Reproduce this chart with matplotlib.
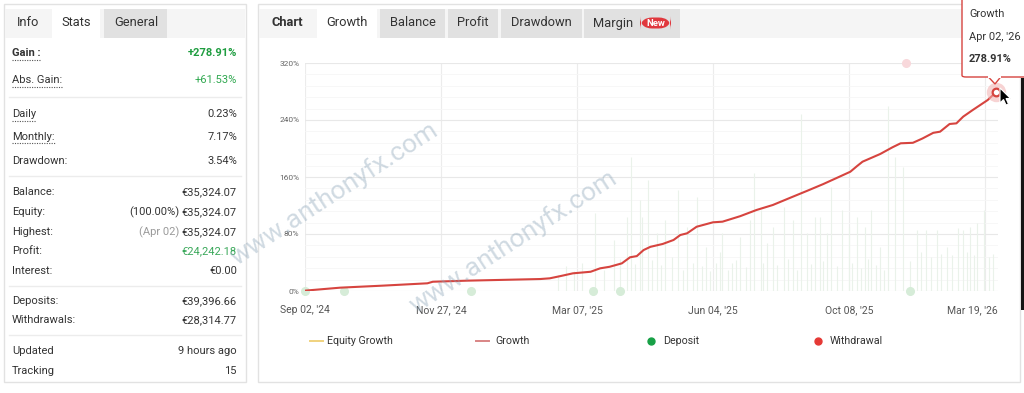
import matplotlib
matplotlib.use("Agg")
import matplotlib.pyplot as plt
import matplotlib.transforms as mtransforms
from matplotlib.patches import Rectangle, Polygon, FancyBboxPatch
from matplotlib.lines import Line2D

# === Data ===
# x is the ordinal day index of the stock chart, y is growth in %
growth_idx = [0, 26, 57, 90, 94, 119, 173, 180, 188, 197, 210, 217, 224, 233, 239, 244,
              249, 254, 263, 271, 276, 281, 288, 300, 307, 320, 332, 344, 357, 369, 381,
              393, 401, 406, 410, 423, 432, 438, 447, 454, 462, 467, 474, 479, 484, 491,
              502, 508]
growth_pct = [0.5, 4.7, 7.5, 10.8, 13.0, 14.5, 16.8, 17.8, 21.0, 24.8, 27.0, 31.8, 34.0,
              38.8, 47.3, 49.0, 57.5, 62.0, 66.0, 71.6, 78.6, 81.0, 90.2, 96.4, 97.3,
              105.0, 113.7, 120.7, 131.0, 140.4, 150.0, 160.4, 167.4, 175.4, 181.5, 192.3,
              201.7, 207.3, 208.0, 214.0, 222.0, 223.6, 234.4, 235.3, 244.7, 254.0, 268.0,
              278.91]

# faint daily columns behind the growth line
bar_idx = [186, 192, 198, 204, 213, 220, 227, 232, 237, 240, 243, 246, 248, 252, 255, 259,
           262, 265, 270, 274, 278, 281, 285, 288, 292, 295, 298, 302, 305, 307, 311, 314,
           317, 320, 324, 327, 330, 335, 337, 340, 344, 347, 352, 355, 359, 362, 365, 369,
           372, 375, 379, 381, 384, 387, 391, 395, 400, 402, 406, 409, 412, 414, 416, 420,
           423, 426, 429, 434, 440, 445, 450, 453, 457, 460, 465, 468, 472, 476, 480, 484,
           487, 489, 492, 494, 499, 503, 506]
bar_pct = [22, 35, 28, 40, 109, 30, 72, 45, 104, 188, 38, 128, 104, 156, 44, 81, 36, 100,
           48, 142, 30, 90, 40, 132, 35, 62, 28, 39, 55, 81, 30, 39, 44, 76, 33, 100, 165,
           114, 40, 67, 90, 36, 118, 45, 100, 30, 249, 81, 38, 104, 104, 42, 81, 146, 35,
           114, 90, 40, 104, 32, 90, 45, 114, 36, 62, 30, 259, 188, 174, 42, 86, 55, 86, 48,
           86, 52, 62, 50, 88, 86, 55, 90, 50, 95, 114, 48, 52]

deposit_idx = [0, 29, 122, 212, 232, 445]
withdrawal_idx = [442]

tick_idx = [0, 100, 200, 300, 400, 500]
tick_labels = ["Sep 02, '24", "Nov 27, '24", "Mar 07, '25", "Jun 04, '25", "Oct 08, '25",
               "Mar 19, '26"]
y_ticks = [0, 80, 160, 240, 320]

stat_labels = ["Gain :", "Abs. Gain:", "Daily", "Monthly:", "Drawdown:", "Balance:",
               "Equity:", "Highest:", "Profit:", "Interest:", "Deposits:", "Withdrawals:",
               "Updated", "Tracking"]
stat_values = ["+278.91%", "+61.53%", "0.23%", "7.17%", "3.54%", "€35,324.07",
               "€35,324.07", "€35,324.07", "€24,242.18", "€0.00", "€39,396.66",
               "€28,314.77", "9 hours ago", "15"]
stat_notes = ["", "", "", "", "", "", "(100.00%)", "(Apr 02)", "", "", "", "", "", ""]

left_tabs = ["Info", "Stats", "General"]
chart_tabs = ["Growth", "Balance", "Profit", "Drawdown", "Margin"]
legend_labels = ["Equity Growth", "Growth", "Deposit", "Withdrawal"]

# === Page layout (pixel helpers) ===
W, H = 1024, 393
plt.rcParams['font.family'] = ['Roboto', 'DejaVu Sans']
fig = plt.figure(figsize=(W / 100, H / 100), dpi=100)
fig.patch.set_facecolor('white')
DARK = '#333333'
RED = '#d6443f'


def box(x0, y0, x1, y1, **kw):
    r = Rectangle((x0 / W, 1 - y1 / H), (x1 - x0) / W, (y1 - y0) / H,
                  transform=fig.transFigure, **kw)
    fig.add_artist(r)
    return r


def txt(x, y, s, **kw):
    kw.setdefault('va', 'center')
    kw.setdefault('color', DARK)
    return fig.text(x / W, 1 - y / H, s, **kw)


def hline(x0, x1, y, **kw):
    fig.add_artist(Line2D([x0 / W, x1 / W], [1 - y / H, 1 - y / H],
                          transform=fig.transFigure, **kw))


# panels
box(4, 4, 246, 382, facecolor='white', edgecolor='#e2e2e2', lw=1, zorder=-10)
box(258, 4, 1020, 382, facecolor='white', edgecolor='#e2e2e2', lw=1, zorder=-10)

# left tab bar
box(5, 9, 245, 38, facecolor='#f5f5f5', edgecolor='none', zorder=-9)
box(52, 9, 100, 38, facecolor='white', edgecolor='none', zorder=-8)
box(104, 9, 167, 38, facecolor='#e1e1e1', edgecolor='none', zorder=-8)
for name, cx in zip(left_tabs, [28, 76, 136]):
    txt(cx, 23, name, ha='center', fontsize=9.3)

# stats rows
row_y = [53, 80, 114, 137, 161, 192, 212, 232, 251, 271, 301, 320, 351, 371]
value_colors = {0: '#1f9d40', 1: '#2fa84f', 8: '#3aa85a'}
underlined = [0, 1, 2, 3]
renderer = fig.canvas.get_renderer()
for i, (lab, val, note) in enumerate(zip(stat_labels, stat_values, stat_notes)):
    y = row_y[i]
    t = txt(12, y, lab, ha='left', fontsize=8,
            fontweight='bold' if i == 0 else 'normal')
    v = txt(237, y, val, ha='right', fontsize=8, color=value_colors.get(i, DARK),
            fontweight='bold' if i == 0 else 'normal')
    if i in underlined:
        bb = t.get_window_extent(renderer)
        fig.add_artist(Line2D([bb.x0 / W, bb.x1 / W], [(bb.y0 - 1.5) / H] * 2,
                              transform=fig.transFigure, color='#555555', lw=0.8,
                              dashes=(1, 1.2)))
    if note:
        bb = v.get_window_extent(renderer)
        txt(bb.x0 - 3, y, note, ha='right', fontsize=8,
            color='#9a9a9a' if i == 7 else DARK)
for y in [97, 176, 286, 335]:
    hline(9, 241, y, color='#ececec', lw=1)

# chart tab bar
box(259, 9, 1019, 38, facecolor='#f5f5f5', edgecolor='none', zorder=-9)
txt(272, 23, "Chart", ha='left', fontsize=9.3, fontweight='bold')
tab_spans = [(317, 377), (380, 445), (448, 498), (501, 582), (584, 680)]
for k, (name, (a, b)) in enumerate(zip(chart_tabs, tab_spans)):
    box(a, 9, b, 38, facecolor='white' if k == 0 else '#e1e1e1', edgecolor='none',
        zorder=-8)
    if name == "Margin":
        txt(593, 23, name, ha='left', fontsize=9.3)
    else:
        txt((a + b) / 2, 23, name, ha='center', fontsize=9.3)
badge = FancyBboxPatch((640 / W, 1 - 28.5 / H), 31 / W, 11 / H,
                       boxstyle="round,pad=0,rounding_size=0.012",
                       transform=fig.transFigure, facecolor='#e0383e', edgecolor='none',
                       mutation_aspect=W / H)
fig.add_artist(badge)
txt(655.5, 23, "New", ha='center', fontsize=6.8, color='white', fontweight='bold')

# === Growth chart ===
ax = fig.add_axes([305 / W, 1 - 291 / H, (998 - 305) / W, (291 - 63) / H])
ax.set_facecolor('none')
for s in ax.spines.values():
    s.set_visible(False)
ax.set_xlim(0, 509.6)
ax.set_ylim(0, 320)

ax.set_yticks(y_ticks)
ax.set_yticks(list(range(16, 320, 16)), minor=True)
ax.set_yticklabels([f"{v}%" for v in y_ticks], fontsize=6, color='#666666')
ax.set_xticks(tick_idx)
ax.set_xticklabels(tick_labels, fontsize=7.5, color='#555555')
ax.tick_params(axis='both', which='both', length=0)
ax.tick_params(axis='y', pad=4)
ax.tick_params(axis='x', pad=10)
last = ax.get_xticklabels()[-1]
last.set_horizontalalignment('right')
last.set_transform(last.get_transform() +
                   mtransforms.ScaledTranslation(0.13, 0, fig.dpi_scale_trans))

ax.grid(axis='y', which='major', color='#e8e8e8', lw=0.8)
ax.grid(axis='y', which='minor', color='#f6f6f6', lw=0.6)
ax.grid(axis='x', which='major', color='#ececec', lw=0.8)
ax.set_axisbelow(True)

ax.vlines(bar_idx, 0, bar_pct, color='#eaf2ea', lw=0.8, zorder=1)
ax.plot(growth_idx, growth_pct, color=RED, lw=1.5, solid_joinstyle='round', zorder=3)
ax.plot(deposit_idx, [0] * len(deposit_idx), 'o', ms=5.5, color='#d6ecd8',
        clip_on=False, zorder=2)
ax.plot(withdrawal_idx, [320] * len(withdrawal_idx), 'o', ms=5.5, color='#f8d8db',
        clip_on=False, zorder=2)
ax.plot(growth_idx[-1], growth_pct[-1], 'o', ms=14, color='#f2b0b0', alpha=0.55,
        mec='none', clip_on=False, zorder=4)
ax.plot(growth_idx[-1], growth_pct[-1], 'o', ms=5.5, mfc='white', mec=RED, mew=1.6,
        clip_on=False, zorder=5)

# legend
leg_colors = ['#f0d27e', '#d98585', '#17a046', '#e53935']
leg_sym_x = [310, 476, 651, 818]
leg_txt_x = [327, 495, 663, 830]
for k, (lab, c) in enumerate(zip(legend_labels, leg_colors)):
    sx = leg_sym_x[k]
    if k < 2:
        hline(sx, sx + 13, 341, color=c, lw=1.4)
    else:
        fig.add_artist(Line2D([sx / W], [1 - 341 / H], marker='o', ms=5, color=c,
                              transform=fig.transFigure))
    txt(leg_txt_x[k], 341, lab, ha='left', fontsize=7.7)

# watermark
for cx, cy in [(334, 194), (513, 242)]:
    txt(cx, cy, "www.anthonyfx.com", ha='center', fontsize=19, rotation=33,
        color='#8fa7ba', alpha=0.42, zorder=15)

# screen edge and tooltip
box(1021, 78, 1024, 310, facecolor='#151515', edgecolor='none', zorder=18)
tip = FancyBboxPatch((962 / W, 1 - 77 / H), 80 / W, 90 / H,
                     boxstyle="round,pad=0,rounding_size=0.004",
                     transform=fig.transFigure, facecolor='white', edgecolor=RED, lw=1,
                     zorder=20)
fig.add_artist(tip)
pointer = [(988, 76.5), (995, 84), (1001, 76.5)]
fig.add_artist(Polygon([(x / W, 1 - y / H) for x, y in pointer], closed=False,
                       transform=fig.transFigure, facecolor='white', edgecolor=RED,
                       lw=1, zorder=21))
hline(988.8, 1000.2, 76.5, color='white', lw=1.5, zorder=22)
txt(969, 14, "Growth", ha='left', fontsize=7.9, zorder=23)
txt(969, 37, "Apr 02, '26", ha='left', fontsize=7.9, zorder=23)
txt(969, 59, "278.91%", ha='left', fontsize=7.9, fontweight='bold', zorder=23)

# mouse pointer
cursor = [(0, 0), (0, 15), (3.5, 11.5), (6, 17), (8.5, 16), (6, 10.5), (10.5, 10.5)]
fig.add_artist(Polygon([((1000 + x) / W, 1 - (88 + y) / H) for x, y in cursor],
                       closed=True, transform=fig.transFigure, facecolor='black',
                       edgecolor='white', lw=0.8, zorder=25))

fig.savefig("out.png", dpi=100, facecolor='white')
